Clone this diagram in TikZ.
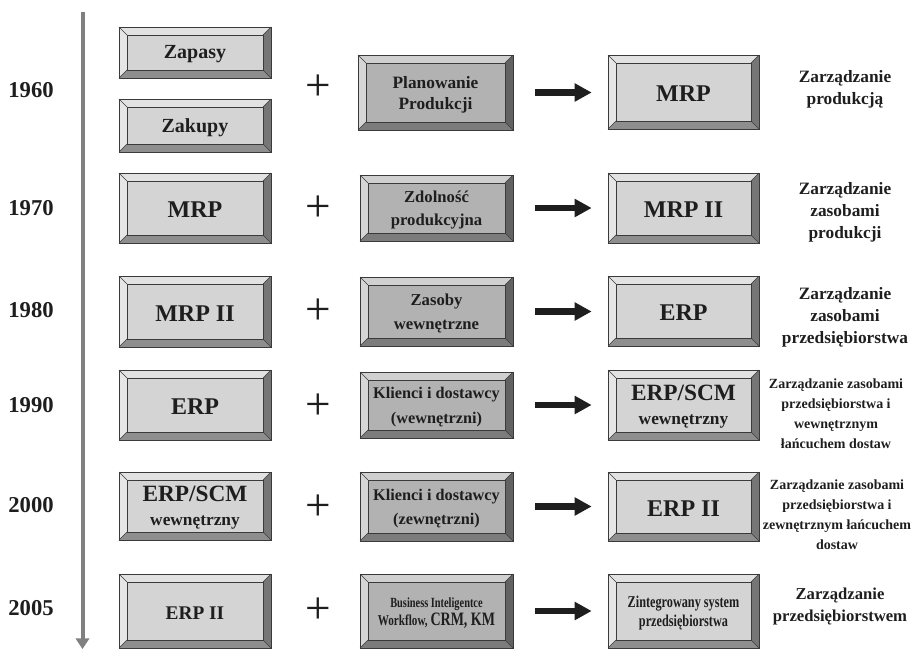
\documentclass[tikz,border=0pt]{standalone}
\usepackage{fontspec}
\setmainfont{Liberation Serif}
\newfontfamily\narrowserif{Liberation Serif}[FakeStretch=0.74]
\usetikzlibrary{arrows.meta}

% bevel palettes: L = light boxes, M = middle (darker) boxes
\definecolor{Lface}{HTML}{D4D4D4}
\definecolor{Ltop}{HTML}{E2E2E2}
\definecolor{Lleft}{HTML}{E6E6E6}
\definecolor{Lright}{HTML}{767676}
\definecolor{Lbottom}{HTML}{8E8E8E}
\definecolor{Mface}{HTML}{B2B2B2}
\definecolor{Mtop}{HTML}{D0D0D0}
\definecolor{Mleft}{HTML}{D6D6D6}
\definecolor{Mright}{HTML}{626262}
\definecolor{Mbottom}{HTML}{7C7C7C}
\definecolor{edge}{HTML}{3A3A3A}
\definecolor{ink}{HTML}{1E1E1E}
\definecolor{axis}{HTML}{808080}

\tikzset{
  facebox/.style={draw=edge, line width=0.5pt, inner sep=0pt},
  boxtext/.style={inner sep=0pt, align=center, text=ink, font=\bfseries},
  edgeline/.style={draw=edge, line width=0.5pt},
  yearlabel/.style={text=ink, font=\bfseries\fontsize{17}{20}\selectfont},
  sidelabel/.style={text=ink, align=center, font=\bfseries\fontsize{13}{16.5}\selectfont},
  sidesmall/.style={text=ink, align=center, font=\bfseries\fontsize{10.5}{15}\selectfont},
  plussign/.style={text=ink, font=\fontsize{34}{34}\selectfont},
  bigarrow/.style={draw=ink, line width=5pt, -{Triangle[length=12.75pt,width=13pt]}},
  timeline/.style={draw=axis, line width=3pt, -{Triangle[length=8pt,width=10pt]}},
}

% #1 name, #2 x1, #3 y1, #4 x2, #5 y2, #6 palette (L/M), #7 font, #8 text
\newcommand{\bevelbox}[8]{%
  \fill[#6top]    (#2,#3) -- (#4,#3) -- ({#4-8},{#3+8}) -- ({#2+8},{#3+8}) -- cycle;
  \fill[#6left]   (#2,#3) -- ({#2+8},{#3+8}) -- ({#2+8},{#5-8}) -- (#2,#5) -- cycle;
  \fill[#6right]  (#4,#3) -- (#4,#5) -- ({#4-8},{#5-8}) -- ({#4-8},{#3+8}) -- cycle;
  \fill[#6bottom] (#2,#5) -- (#4,#5) -- ({#4-8},{#5-8}) -- ({#2+8},{#5-8}) -- cycle;
  \draw[edgeline] (#2,#3) rectangle (#4,#5);
  \draw[edgeline] (#2,#3) -- ({#2+8},{#3+8}) (#4,#3) -- ({#4-8},{#3+8})
                  (#2,#5) -- ({#2+8},{#5-8}) (#4,#5) -- ({#4-8},{#5-8});
  \node[facebox, fill=#6face,
        minimum width={(#4-#2-16)*0.75pt}, minimum height={(#5-#3-16)*0.75pt}]
        (#1) at ({(#2+#4)/2},{(#3+#5)/2}) {};
  \node[boxtext, font=\bfseries#7] (#1-text) at ([yshift=-1.5pt]#1.center) {#8};
}

\newcommand{\fs}[2]{\fontsize{#1}{#2}\selectfont}

\begin{document}
\begin{tikzpicture}[x=0.75pt,y=-0.75pt]
\useasboundingbox (0,0) rectangle (914,650);

% time axis
\coordinate (axtop) at (82.5,12);
\coordinate (axend) at (82.5,649);
\draw[timeline] (axtop) -- (axend);

% years
\node[yearlabel] (y1) at (31,90)  {1960};
\node[yearlabel] (y2) at (31,208) {1970};
\node[yearlabel] (y3) at (31,310) {1980};
\node[yearlabel] (y4) at (31,405) {1990};
\node[yearlabel] (y5) at (31,505) {2000};
\node[yearlabel] (y6) at (31,608) {2005};

% row 1960
\bevelbox{a1}{119}{27}{271}{78}{L}{\fs{15}{17}}{Zapasy}
\bevelbox{a1b}{119}{99}{271}{152}{L}{\fs{15}{17}}{Zakupy}
\bevelbox{m1}{358}{55}{513}{130}{M}{\fs{13}{16}}{Planowanie\\Produkcji}
\bevelbox{r1}{608}{55}{759}{129}{L}{\fs{18}{20}}{MRP}
\node[plussign] (p1) at (318,88) {+};
\draw[bigarrow] ([xshift=22.5pt]m1.east) -- ([xshift=-18pt]m1.east -| r1.west);
\node[sidelabel] (s1) at (845,89) {Zarządzanie\\produkcją};

% row 1970
\bevelbox{a2}{119}{173}{271}{243}{L}{\fs{18}{20}}{MRP}
\bevelbox{m2}{360}{175}{513}{241}{M}{\fs{12.5}{17.5}}{Zdolność\\produkcyjna}
\bevelbox{r2}{608}{173}{759}{243}{L}{\fs{18}{20}}{MRP II}
\node[plussign] (p2) at (318,209) {+};
\draw[bigarrow] ([xshift=22.5pt]m2.east) -- ([xshift=-18pt]m2.east -| r2.west);
\node[sidelabel] (s2) at (845,212) {Zarządzanie\\zasobami\\produkcji};

% row 1980
\bevelbox{a3}{119}{276}{271}{347}{L}{\fs{18}{20}}{MRP II}
\bevelbox{m3}{360}{277}{513}{346}{M}{\fs{12.5}{18}}{Zasoby\\wewnętrzne}
\bevelbox{r3}{608}{276}{759}{346}{L}{\fs{18}{20}}{ERP}
\node[plussign] (p3) at (318,312) {+};
\draw[bigarrow] ([xshift=22.5pt]m3.east) -- ([xshift=-18pt]m3.east -| r3.west);
\node[sidelabel] (s3) at (845,317) {Zarządzanie\\zasobami\\przedsiębiorstwa};

% row 1990
\bevelbox{a4}{119}{370}{271}{440}{L}{\fs{18}{20}}{ERP}
\bevelbox{m4}{360}{372}{513}{438}{M}{\fs{12.2}{18.5}}{Klienci i dostawcy\\(wewnętrzni)}
\bevelbox{r4}{608}{370}{759}{440}{L}{\fs{17.5}{20}}{ERP/SCM\\[-2pt]{\fs{13}{16}wewnętrzny}}
\node[plussign] (p4) at (318,407) {+};
\draw[bigarrow] ([xshift=22.5pt]m4.east) -- ([xshift=-18pt]m4.east -| r4.west);
\node[sidesmall] (s4) at (836,414) {Zarządzanie zasobami\\przedsiębiorstwa i\\wewnętrznym\\łańcuchem dostaw};

% row 2000
\bevelbox{a5}{119}{472}{271}{540}{L}{\fs{17.5}{20}}{ERP/SCM\\[-2pt]{\fs{13}{16}wewnętrzny}}
\bevelbox{m5}{360}{472}{513}{541}{M}{\fs{12.2}{18.5}}{Klienci i dostawcy\\(zewnętrzni)}
\bevelbox{r5}{608}{472}{759}{541}{L}{\fs{18}{20}}{ERP II}
\node[plussign] (p5) at (318,508) {+};
\draw[bigarrow] ([xshift=22.5pt]m5.east) -- ([xshift=-18pt]m5.east -| r5.west);
\node[sidesmall] (s5) at (837,515) {Zarządzanie zasobami\\przedsiębiorstwa i\\zewnętrznym łańcuchem\\dostaw};

% row 2005
\bevelbox{a6}{119}{574}{271}{648}{L}{\fs{14.5}{17}}{ERP II}
\bevelbox{m6}{360}{574}{513}{648}{M}{\narrowserif\fs{10.5}{14}}{Business Inteligentce\\{\fs{11.3}{14}Workflow, }{\fs{14.2}{14}CRM, KM}}
\bevelbox{r6}{608}{574}{759}{648}{L}{\narrowserif\fs{12.4}{14}}{Zintegrowany system\\przedsiębiorstwa}
\node[plussign] (p6) at (318,611) {+};
\draw[bigarrow] ([xshift=22.5pt]m6.east) -- ([xshift=-18pt]m6.east -| r6.west);
\node[sidelabel, font=\bfseries\fs{12.5}{16.5}] (s6) at (840,606) {Zarządzanie\\przedsiębiorstwem};
\end{tikzpicture}
\end{document}
